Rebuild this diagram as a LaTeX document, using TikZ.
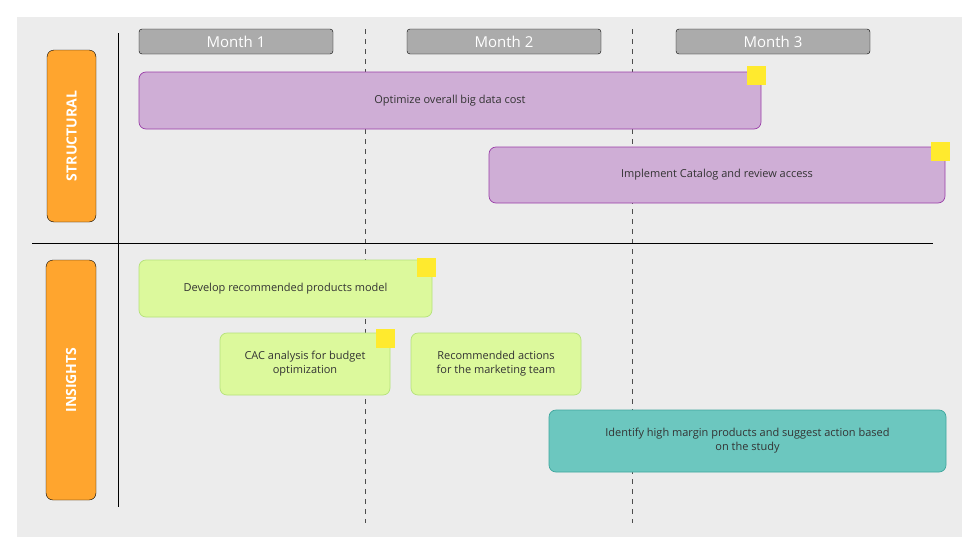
\documentclass[tikz,border=0pt]{standalone}
\usepackage{fontspec}
\setmainfont{Open Sans}
\usetikzlibrary{shapes.geometric}
\definecolor{panel}{HTML}{ECECEC}
\definecolor{mon}{HTML}{ABABAB}
\definecolor{org}{HTML}{FFA52E}
\definecolor{pfill}{HTML}{CFAED6}
\definecolor{pdraw}{HTML}{9A3FA8}
\definecolor{gfill}{HTML}{DCF99C}
\definecolor{gdraw}{HTML}{B5E27A}
\definecolor{tfill}{HTML}{6CC7BF}
\definecolor{tdraw}{HTML}{3FA69D}
\definecolor{star}{HTML}{FFEA2E}
\definecolor{txt}{HTML}{333333}
\tikzset{
  box/.style={rounded corners=7pt, line width=0.7pt},
  btxt/.style={text=txt, font=\fontsize{11}{14}\selectfont, align=center},
  month/.style={fill=mon, rounded corners=3pt},
  mtxt/.style={text=white, font=\fontsize{15}{18}\selectfont},
  side/.style={fill=org, rounded corners=7pt},
  stxt/.style={text=white, font=\bfseries\fontsize{14}{16}\selectfont, rotate=90},
  st/.style={star, star points=5, star point ratio=2.3, fill=star, inner sep=0pt, minimum size=19pt},
  monthline/.style={draw=black!70, line width=0.8pt, dash pattern=on 5pt off 5pt},
}
\begin{document}
\begin{tikzpicture}[x=1pt,y=-1pt]
\useasboundingbox (0,0) rectangle (980,552);
\fill[white] (0,0) rectangle (980,552);
\fill[panel] (17,17) rectangle (962,537);
% months
\draw[month] (139,29) rectangle (333,54); \node[mtxt] (m1) at (236,42) {Month 1};
\draw[month] (407,29) rectangle (601,54); \node[mtxt] (m2) at (504,42) {Month 2};
\draw[month] (676,29) rectangle (870,54); \node[mtxt] (m3) at (773,42) {Month 3};
% dashed
\coordinate (d1a) at (365,29); \coordinate (d1b) at (365,523);
\coordinate (d2a) at (632,29); \coordinate (d2b) at (632,523);
\draw[monthline] (d1a) -- (d1b);
\draw[monthline] (d2a) -- (d2b);
% axes
\coordinate (va) at (118,33); \coordinate (vb) at (118,507);
\coordinate (ha) at (32,243); \coordinate (hb) at (933,243);
\draw[line width=1pt] (va) -- (vb);
\draw[line width=1pt] (ha) -- (hb);
% side labels
\draw[side] (47,50) rectangle (96,222); \node[stxt] (s1) at (71.5,136) {STRUCTURAL};
\draw[side] (46,260) rectangle (96,500); \node[stxt] (s2) at (71,380) {INSIGHTS};
% purple
\draw[box, fill=pfill, draw=pdraw] (139,72) rectangle (761,129);
\node[btxt] (p1) at (450,100.5) {Optimize overall big data cost};
\draw[box, fill=pfill, draw=pdraw] (489,147) rectangle (945,203);
\node[btxt] (p2) at (717,175) {Implement Catalog and review access};
% green
\draw[box, fill=gfill, draw=gdraw] (139,260) rectangle (432,317);
\node[btxt] (g1) at (285.5,288.5) {Develop recommended products model};
\draw[box, fill=gfill, draw=gdraw] (220,333) rectangle (390,395);
\node[btxt] (g2) at (305,364) {CAC analysis for budget\\optimization};
\draw[box, fill=gfill, draw=gdraw] (411,333) rectangle (581,395);
\node[btxt] (g3) at (496,364) {Recommended actions\\for the marketing team};
% teal
\draw[box, fill=tfill, draw=tdraw] (549,410) rectangle (946,472);
\node[btxt] (t1) at (747.5,441) {Identify high margin products and suggest action based\\on the study};
% stars
\node[st] (st1) at (756,75) {};
\node[st] (st2) at (940,151) {};
\node[st] (st3) at (426,267) {};
\node[st] (st4) at (385,338) {};
\end{tikzpicture}
\end{document}
